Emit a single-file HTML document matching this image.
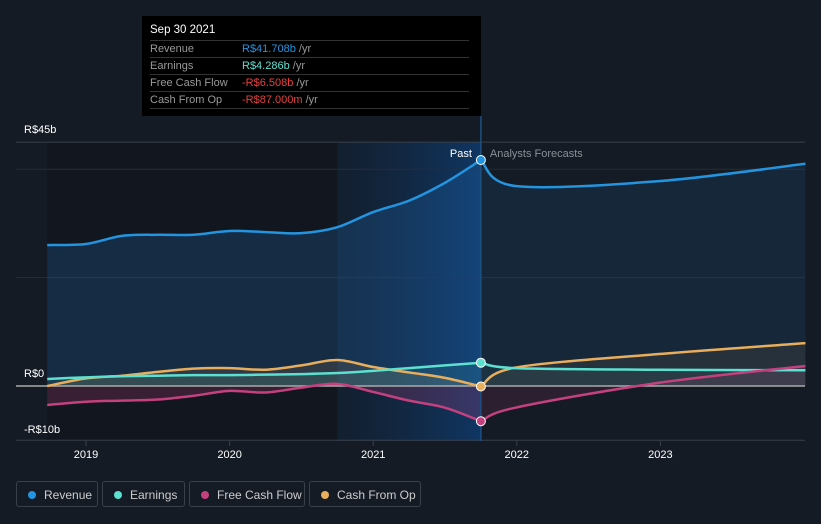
<!DOCTYPE html>
<html><head><meta charset="utf-8">
<style>
body{margin:0;background:#151b24;width:821px;height:524px;overflow:hidden;font-family:"Liberation Sans",sans-serif;}
#wrap{position:relative;width:821px;height:524px;}
svg{position:absolute;left:0;top:0;}
.tip{position:absolute;left:142px;top:16px;width:339px;height:100px;background:#000;font-size:11px;}
.tip .row{position:absolute;left:8px;width:319px;height:16px;border-top:1px solid #333;line-height:17px;color:#999;}
.tip .row span.v{position:absolute;left:92px;}
.leg{position:absolute;top:481px;height:26px;border:1px solid #3a4049;border-radius:3px;color:#ccc;font-size:12px;line-height:26px;box-sizing:border-box;}
.leg i{position:absolute;left:11px;top:9px;width:8px;height:8px;border-radius:50%;}
.leg span{position:absolute;left:27px;}
</style></head><body>
<div id="wrap">
<svg id="chart" width="821" height="524"></svg>
<div class="tip">
 <div style="position:absolute;left:8px;top:8px;color:#fff;font-size:11.5px">Sep 30 2021</div>
 <div class="row" style="top:24px">Revenue<span class="v" style="color:#2394df">R$41.708b <span style="color:#999">/yr</span></span></div>
 <div class="row" style="top:41px">Earnings<span class="v" style="color:#5ce0d0">R$4.286b <span style="color:#999">/yr</span></span></div>
 <div class="row" style="top:58px">Free Cash Flow<span class="v" style="color:#e8403e">-R$6.508b <span style="color:#999">/yr</span></span></div>
 <div class="row" style="top:75px;border-bottom:1px solid #333">Cash From Op<span class="v" style="color:#e8403e">-R$87.000m <span style="color:#999">/yr</span></span></div>
</div>
<div class="leg" style="left:16px;width:82px"><i style="background:#2394df"></i><span>Revenue</span></div>
<div class="leg" style="left:102px;width:83px"><i style="background:#5ce0d0"></i><span>Earnings</span></div>
<div class="leg" style="left:189px;width:116px"><i style="background:#c4407f"></i><span>Free Cash Flow</span></div>
<div class="leg" style="left:309px;width:112px"><i style="background:#e8ae5c"></i><span>Cash From Op</span></div>
</div>
<script>
const pastDates=[2018.73,2019.0,2019.25,2019.5,2019.75,2020.0,2020.25,2020.5,2020.75,2021.0,2021.25,2021.5,2021.75];
const revenuePast=[26.0,26.2,27.7,27.9,27.9,28.6,28.4,28.2,29.3,32.1,34.2,37.5,41.7];
const earningsPast=[1.3,1.6,1.8,1.9,2.0,2.0,2.1,2.2,2.4,2.8,3.3,3.8,4.3];
const fcfPast=[-3.5,-2.9,-2.7,-2.5,-1.8,-0.9,-1.2,-0.3,0.4,-1.1,-2.7,-4.0,-6.5];
const cfoPast=[0.0,1.4,1.9,2.6,3.2,3.3,3.0,3.8,4.8,3.5,2.5,1.5,-0.09];
const fcDates=[2021.75,2021.99,2022.99,2024.01];
const revenueFc=[41.7,36.9,37.8,41.0];
const earningsFc=[4.3,3.3,3.0,2.9];
const fcfFc=[-6.5,-4.0,0.6,3.7];
const cfoFc=[-0.09,3.4,5.9,7.9];
const yTicks=[45,0,-10];
const yTickLabels=["R$45b","R$0","-R$10b"];
const yGrid=[40,20];
const xTicks=[2019,2020,2021,2022,2023];

const X=t=>86+(t-2019)*143.6;
const Y=v=>386-v*5.42;
const svg=document.getElementById('chart');
const NS='http://www.w3.org/2000/svg';
function mk(tag,attrs,parent){const e=document.createElementNS(NS,tag);for(const k in attrs)e.setAttribute(k,attrs[k]);(parent||svg).appendChild(e);return e;}
function path(xs,vs){
 const p=xs.map((t,i)=>[X(t),Y(vs[i])]);
 let d='M'+p[0][0]+','+p[0][1];
 for(let i=0;i<p.length-1;i++){
  const p0=p[i-1]||p[i],p1=p[i],p2=p[i+1],p3=p[i+2]||p2;
  const c1=[p1[0]+(p2[0]-p0[0])/6,p1[1]+(p2[1]-p0[1])/6];
  const c2=[p2[0]-(p3[0]-p1[0])/6,p2[1]-(p3[1]-p1[1])/6];
  d+=` C${c1[0]},${c1[1]} ${c2[0]},${c2[1]} ${p2[0]},${p2[1]}`;
 }
 return d;
}
const defs=mk('defs',{});
defs.innerHTML='<linearGradient id="hl" x1="0" x2="1"><stop offset="0" stop-color="#0e2a4a" stop-opacity="0.3"/><stop offset="1" stop-color="#0e3f78" stop-opacity="0.75"/></linearGradient>';
const x0=X(pastDates[0]),xp=X(2021.75),xe=X(fcDates[fcDates.length-1]);
mk('rect',{x:x0,y:142,width:X(2020.75)-x0,height:299,fill:'#12171f'});
mk('rect',{x:X(2020.75),y:142,width:xp-X(2020.75),height:299,fill:'url(#hl)'});
const g1=mk('line',{x1:16,x2:805,y1:Y(45),y2:Y(45),stroke:'#3a404a'});

yGrid.forEach(v=>{const l=mk('line',{x1:16,x2:805,y1:Y(v),y2:Y(v),stroke:'#262d38'});});
mk('line',{x1:16,x2:805,y1:Y(-10),y2:Y(-10),stroke:'#3a404a'});
const series=[
 {n:'revenue',c:'#2394df',p:revenuePast,f:revenueFc,fill:'rgba(35,120,200,0.22)'},
 {n:'cash-from-op',c:'#e8ae5c',p:cfoPast,f:cfoFc,fill:'rgba(232,174,92,0.12)'},
 {n:'earnings',c:'#5ce0d0',p:earningsPast,f:earningsFc,fill:'rgba(92,224,208,0.10)'},
 {n:'free-cash-flow',c:'#c4407f',p:fcfPast,f:fcfFc,fill:'rgba(196,64,127,0.22)'}];
series.forEach(s=>{
 const d1=path(pastDates,s.p),d2=path(fcDates,s.f);
 const a=mk('path',{d:d1+` L${xp},${Y(0)} L${x0},${Y(0)} Z`,fill:s.fill});
 
 const b=mk('path',{d:d2+` L${xe},${Y(0)} L${xp},${Y(0)} Z`,fill:s.fill,opacity:0.6});
 
});
mk('line',{x1:16,x2:805,y1:Y(0),y2:Y(0),stroke:'#aaa','stroke-width':1.5});
series.forEach(s=>{
 const l=mk('path',{d:path(pastDates,s.p),fill:'none',stroke:s.c,'stroke-width':2.5});
 
 const f=mk('path',{d:path(fcDates,s.f),fill:'none',stroke:s.c,'stroke-width':2.5});
 
});
mk('line',{x1:xp,x2:xp,y1:116,y2:441,stroke:'#1d4f80','stroke-width':1.5});
series.forEach(s=>{const c=mk('circle',{cx:xp,cy:Y(s.p[s.p.length-1]),r:4.5,fill:s.c,stroke:'#fff','stroke-width':1});});
const t1=mk('text',{x:xp-9,y:157,fill:'#fff','font-size':11,'text-anchor':'end'});t1.textContent='Past';
const t2=mk('text',{x:xp+9,y:157,fill:'#8a8f96','font-size':11});t2.textContent='Analysts Forecasts';
yTicks.forEach((v,i)=>{const t=mk('text',{x:24,y:Y(v)-9+(v===-10?2:0),fill:'#fff','font-size':11});t.textContent=yTickLabels[i];});
xTicks.forEach(v=>{const l=mk('line',{x1:X(v),x2:X(v),y1:441,y2:446,stroke:'#3a404a'});
 const t=mk('text',{x:X(v),y:458,fill:'#fff','font-size':11,'text-anchor':'middle'});t.textContent=v;});
</script>
</body></html>
